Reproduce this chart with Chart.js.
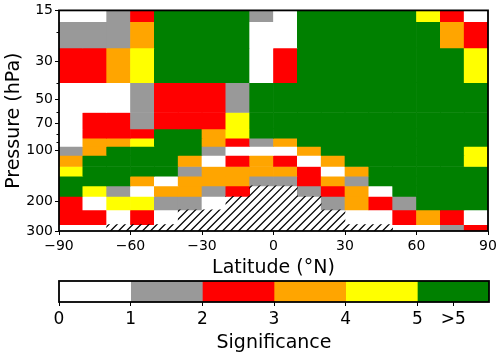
<!DOCTYPE html>
<html>
<head>
<meta charset="utf-8">
<script src="https://cdn.jsdelivr.net/npm/chart.js@4.4.1/dist/chart.umd.min.js"></script>
<style>
  body { margin: 0; background: #fff; }
  #wrap { position: relative; width: 500px; height: 357px; }
  canvas { position: absolute; left: 0; }
  #main { top: 0; }
  #cbar { top: 270px; }
</style>
</head>
<body>
<div id="wrap">
  <canvas id="main" width="500" height="280"></canvas>
  <canvas id="cbar" width="500" height="87"></canvas>
</div>
<script>
// grid centres
const latitudes = [-85, -75, -65, -55, -45, -35, -25, -15, -5, 5, 15, 25, 35, 45, 55, 65, 75, 85];
const pressureLevels = [15, 20, 30, 50, 70, 80, 90, 100, 115, 135, 150, 175, 200, 250, 300];

// significance class per cell (0: 0-1, 1: 1-2, ... 5: >5), null = hatched / no data
const significance = [
  [0, 0, 1, 2, 5, 5, 5, 5, 1, 0, 5, 5, 5, 5, 5, 4, 2, 0],
  [1, 1, 1, 3, 5, 5, 5, 5, 0, 0, 5, 5, 5, 5, 5, 5, 3, 2],
  [2, 2, 3, 4, 5, 5, 5, 5, 0, 2, 5, 5, 5, 5, 5, 5, 5, 4],
  [0, 0, 0, 1, 2, 2, 2, 1, 5, 5, 5, 5, 5, 5, 5, 5, 5, 5],
  [0, 2, 2, 1, 2, 2, 2, 4, 5, 5, 5, 5, 5, 5, 5, 5, 5, 5],
  [0, 2, 2, 2, 5, 5, 3, 4, 5, 5, 5, 5, 5, 5, 5, 5, 5, 5],
  [0, 3, 3, 4, 5, 5, 3, 2, 1, 3, 5, 5, 5, 5, 5, 5, 5, 5],
  [1, 3, 5, 5, 5, 5, 1, 0, 0, 0, 3, 5, 5, 5, 5, 5, 5, 4],
  [3, 5, 5, 5, 5, 3, 0, 2, 3, 2, 0, 3, 5, 5, 5, 5, 5, 4],
  [4, 5, 5, 5, 5, 1, 3, 3, 3, 3, 2, 0, 3, 5, 5, 5, 5, 5],
  [5, 5, 5, 3, 0, 3, 3, 3, 1, 1, 2, 3, 1, 5, 5, 5, 5, 5],
  [5, 4, 1, 0, 3, 3, 1, 2, null, null, 1, 2, 3, 0, 5, 5, 5, 5],
  [2, 0, 4, 4, 1, 1, 0, null, null, null, null, 1, 3, 2, 1, 5, 5, 5],
  [2, 2, 0, 2, 0, null, null, null, null, null, null, null, 0, 0, 2, 3, 2, 0],
  [0, 0, null, null, null, null, null, null, null, null, null, null, null, null, 0, 0, 1, 2]
];

const palette = ['#ffffff', '#999999', '#ff0000', '#ffa500', '#ffff00', '#008000'];
const latTicks = [-90, -60, -30, 0, 30, 60, 90];
const pressureTicks = [15, 30, 50, 70, 100, 200, 300];
const pressureMinorTicks = [20, 40, 60, 80, 90];
const cbarBounds = [0, 1, 2, 3, 4, 5, 6];
const cbarTicks = [0, 1, 2, 3, 4, 5, 5.5];
const cbarLabels = ['0', '1', '2', '3', '4', '5', '>5'];

Chart.defaults.font.family = 'DejaVu Sans';
Chart.defaults.color = '#000';

// cell edges in pressure: midway between levels, clipped to the axis range
const pEdges = [pressureTicks[0]];
for (let i = 1; i < pressureLevels.length; i++) {
    pEdges.push((pressureLevels[i - 1] + pressureLevels[i]) / 2);
}
pEdges.push(pressureTicks[pressureTicks.length - 1]);

const latEdges = [latTicks[0]];
for (let j = 1; j < latitudes.length; j++) {
    latEdges.push((latitudes[j - 1] + latitudes[j]) / 2);
}
latEdges.push(latTicks[latTicks.length - 1]);

const rowDatasets = pressureLevels.map((p, i) => {
    const cells = [];
    latitudes.forEach((lat, j) => {
        const v = significance[i][j];
        if (v === null) return;
        cells.push({ x: lat, y: [pEdges[i], pEdges[i + 1]], v: v });
    });
    return {
        label: p + ' hPa',
        data: cells,
        backgroundColor: cells.map(c => palette[c.v]),
        borderWidth: 0,
        grouped: false,
        barPercentage: 1,
        categoryPercentage: 1
    };
});

const tickFont = { size: 14 };
const titleFont = { size: 19 };

const frame = {
    id: 'frame',
    afterDatasetsDraw(chart) {
        if (chart.canvas.id !== 'main') return;
        const { ctx, chartArea: a, scales } = chart;
        // hatching over cells without data
        ctx.save();
        ctx.beginPath();
        significance.forEach((row, i) => row.forEach((v, j) => {
            if (v !== null) return;
            const x0 = scales.x.getPixelForValue(latEdges[j]);
            const x1 = scales.x.getPixelForValue(latEdges[j + 1]);
            const y0 = scales.y.getPixelForValue(pEdges[i]);
            const y1 = scales.y.getPixelForValue(pEdges[i + 1]);
            ctx.rect(x0 - 0.3, y0 - 0.3, x1 - x0 + 0.6, y1 - y0 + 0.6);
        }));
        ctx.clip();
        ctx.strokeStyle = '#000';
        ctx.lineWidth = 1.2;
        const h = a.bottom - a.top;
        ctx.beginPath();
        for (let k = -h; k < a.right - a.left; k += 8) {
            ctx.moveTo(a.left + k, a.bottom);
            ctx.lineTo(a.left + k + h, a.top);
        }
        ctx.stroke();
        ctx.restore();
    },
    afterDraw(chart) {
        const { ctx, chartArea: a } = chart;
        ctx.save();
        ctx.strokeStyle = '#000';
        ctx.lineWidth = 1.8;
        ctx.strokeRect(a.left, a.top, a.right - a.left, a.bottom - a.top);
        if (chart.canvas.id === 'main') {
            ctx.lineWidth = 1;
            ctx.beginPath();
            pressureMinorTicks.forEach(p => {
                const y = Math.round(chart.scales.y.getPixelForValue(p)) + 0.5;
                ctx.moveTo(a.left - 2.5, y);
                ctx.lineTo(a.left, y);
            });
            ctx.stroke();
        }
        ctx.restore();
    }
};

new Chart(document.getElementById('main'), {
    type: 'bar',
    data: { datasets: rowDatasets },
    options: {
        responsive: false,
        animation: false,
        layout: { padding: { left: 0, right: 12, top: 9, bottom: 0 } },
        plugins: { legend: { display: false }, tooltip: { enabled: false } },
        scales: {
            x: {
                type: 'linear',
                min: -90,
                max: 90,
                offset: false,
                afterBuildTicks: s => { s.ticks = latTicks.map(v => ({ value: v })); },
                afterFit: s => { s.height = 49; },
                ticks: {
                    font: tickFont,
                    padding: 3,
                    maxRotation: 0,
                    autoSkip: false,
                    callback: v => v < 0 ? '\u2212' + (-v) : String(v)
                },
                grid: { offset: false, drawOnChartArea: false, tickLength: 4, color: '#000', lineWidth: 1 },
                border: { display: false },
                title: { display: true, text: 'Latitude (°N)', font: titleFont, padding: { bottom: 1 } }
            },
            y: {
                type: 'logarithmic',
                min: 15,
                max: 300,
                reverse: true,
                afterBuildTicks: s => { s.ticks = pressureTicks.map(v => ({ value: v })); },
                afterFit: s => { s.width = 59; },
                ticks: { font: tickFont, padding: 2, autoSkip: false, callback: v => String(v) },
                grid: { drawOnChartArea: false, tickLength: 4, color: '#000', lineWidth: 1 },
                border: { display: false },
                title: { display: true, text: 'Pressure (hPa)', font: titleFont, padding: { top: 3 } }
            }
        }
    },
    plugins: [frame]
});

new Chart(document.getElementById('cbar'), {
    type: 'bar',
    data: {
        labels: [''],
        datasets: palette.map((c, k) => ({
            data: [cbarBounds[k + 1] - cbarBounds[k]],
            backgroundColor: c,
            borderWidth: 0,
            barPercentage: 1,
            categoryPercentage: 1
        }))
    },
    options: {
        indexAxis: 'y',
        responsive: false,
        animation: false,
        layout: { padding: { left: 59, right: 11, top: 11, bottom: 0 } },
        plugins: { legend: { display: false }, tooltip: { enabled: false } },
        scales: {
            x: {
                type: 'linear',
                stacked: true,
                min: 0,
                max: 6,
                afterBuildTicks: s => { s.ticks = cbarTicks.map(v => ({ value: v })); },
                afterFit: s => { s.height = 55; },
                ticks: { font: { size: 17 }, padding: 3, maxRotation: 0, autoSkip: false, callback: (v, i) => cbarLabels[i] },
                grid: { drawOnChartArea: false, tickLength: 4, color: '#000', lineWidth: 1 },
                border: { display: false },
                title: { display: true, text: 'Significance', font: titleFont, padding: { bottom: 3 } }
            },
            y: { display: false, stacked: true }
        }
    },
    plugins: [frame]
});
</script>
</body>
</html>
